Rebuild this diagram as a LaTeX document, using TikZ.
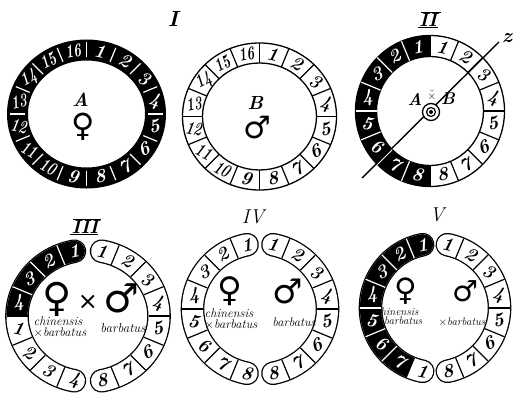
\documentclass[tikz,border=0pt]{standalone}
\usepackage{fontspec}
\newfontfamily\symf{DejaVu Sans}
\tikzset{
  num/.style={font=\fontsize{19}{19}\selectfont\bfseries\itshape, inner sep=0pt},
  lab/.style={font=\fontsize{19}{19}\selectfont\bfseries\itshape, inner sep=0pt},
  letter/.style={font=\fontsize{19}{19}\selectfont\bfseries\itshape, inner sep=0pt},
  sym/.style={font=\symf\fontsize{#1}{#1}\selectfont, inner sep=0pt},
  taxon/.style={font=\fontsize{#1}{#1}\selectfont\itshape, inner sep=0pt, align=left},
  rim/.style={line width=1.3pt},
  divline/.style={line width=1.2pt},
}
% divider across a band
\newcommand\ringdiv[6]{% #1 angle, #2 rx, #3 ry, #4 T, #5 colour, #6 shorten
  \pgfmathsetmacro\rxi{#2-#4/2+#6}\pgfmathsetmacro\rxo{#2+#4/2-#6}%
  \pgfmathsetmacro\ryi{#3-#4/2+#6}\pgfmathsetmacro\ryo{#3+#4/2-#6}%
  \draw[#5, divline] ({\rxi*cos(#1)},{\ryi*sin(#1)}) -- ({\rxo*cos(#1)},{\ryo*sin(#1)});}
\newcommand\halfband[8]{% #1 side, #2 rx, #3 ry, #4 T, #5 delta, #6 black count, #7 labels, #8 prefix
  \pgfmathsetmacro\aS{-90+#1*#5}%
  \pgfmathsetmacro\aE{-90+#1*(180-#5)}%
  \pgfmathsetmacro\tw{#4+2.6}%
  \draw[line width=\tw pt, line cap=round] (\aS:#2 and #3) arc[start angle=\aS, end angle=\aE, x radius=#2, y radius=#3];
  \draw[white, line width=#4pt, line cap=round] (\aS:#2 and #3) arc[start angle=\aS, end angle=\aE, x radius=#2, y radius=#3];
  \ifnum#6>0
    \pgfmathsetmacro\aB{-90+#1*22.5*#6}%
    \fill (\aS:#2 and #3) circle[radius=#4/2];
    \draw[line width=#4pt] (\aS:#2 and #3) arc[start angle=\aS, end angle=\aB, x radius=#2, y radius=#3];
  \fi
  \foreach \j in {1,...,7}{%
    \pgfmathsetmacro\a{-90+#1*22.5*\j}%
    \ifnum\j<#6 \def\dc{white}\else\def\dc{black}\fi
    \ringdiv{\a}{#2}{#3}{#4}{\dc}{0}}%
  \foreach \lbl [count=\k] in {#7}{%
    \pgfmathsetmacro\a{-90+#1*(11.25+22.5*(\k-1))}%
    \ifnum\k>#6 \def\tc{black}\else\def\tc{white}\fi
    \node[num, text=\tc, rotate={30*sin(2*\a)}] (#8-\k) at (\a:#2 and #3) {\lbl};}%
}
\begin{document}
\begin{tikzpicture}[x=1pt,y=-1pt]
\useasboundingbox (0,0) rectangle (513,393);

% ---------- Ring I (A) ----------
\begin{scope}[shift={(86.5,114)}]
  \draw[line width=21pt] (0,0) ellipse[x radius=69, y radius=64];
  \foreach \i in {0,...,15}{\pgfmathsetmacro\a{-90+22.5*\i}\ringdiv{\a}{69}{64}{21}{white}{3}}
  \foreach \k in {1,...,16}{\pgfmathsetmacro\a{-90+11.25+22.5*(\k-1)}
    \ifnum\k>9 \def\sx{0.7}\else\def\sx{1}\fi
    \node[num, text=white, rotate={30*sin(2*\a)}, xscale=\sx] (I-\k) at (\a:69 and 64) {\k};}
  \node[letter] (Aone) at (-6,-14) {A};
  \node[sym=32] (femI) at (-3,13) {♀};
\end{scope}
\node[lab, font=\fontsize{22}{22}\selectfont\bfseries\itshape] (labI) at (173,19) {I};

% ---------- Ring B ----------
\begin{scope}[shift={(259.5,116.5)}]
  \draw[rim] (0,0) ellipse[x radius=77, y radius=73.5];
  \draw[rim] (0,0) ellipse[x radius=57, y radius=53.5];
  \foreach \i in {0,...,15}{\pgfmathsetmacro\a{-90+22.5*\i}\ringdiv{\a}{67}{63.5}{20}{black}{0}}
  \foreach \k in {1,...,16}{\pgfmathsetmacro\a{-90+11.25+22.5*(\k-1)}
    \ifnum\k>9 \def\sx{0.7}\else\def\sx{1}\fi
    \node[num, rotate={30*sin(2*\a)}, xscale=\sx] (B-\k) at (\a:67 and 63.5) {\k};}
  \node[letter] (Bone) at (-4,-14) {B};
  \node[sym=31] (malB) at (-2,11) {♂};
\end{scope}

% ---------- Ring II ----------
\begin{scope}[shift={(430,111)}]
  \draw[line width=21pt] (-90:64 and 65) arc[start angle=-90, end angle=-270, x radius=64, y radius=65];
  \draw[rim] (0,0) ellipse[x radius=74.5, y radius=75.5];
  \draw[rim] (0,0) ellipse[x radius=53.5, y radius=54.5];
  \ringdiv{-90}{64}{65}{21}{black}{0}
  \ringdiv{90}{64}{65}{21}{black}{0}
  \foreach \j in {1,...,7}{\pgfmathsetmacro\a{-90+22.5*\j}\ringdiv{\a}{64}{65}{21}{black}{0}
    \pgfmathsetmacro\b{-90-22.5*\j}\ringdiv{\b}{64}{65}{21}{white}{0}}
  \foreach \k in {1,...,8}{\pgfmathsetmacro\a{-90+11.25+22.5*(\k-1)}
    \node[num, rotate={30*sin(2*\a)}] (IIR-\k) at (\a:64 and 65) {\k};
    \pgfmathsetmacro\b{-90-11.25-22.5*(\k-1)}
    \node[num, text=white, rotate={30*sin(2*\b)}] (IIL-\k) at (\b:64 and 65) {\k};}
\end{scope}
\coordinate (z1) at (362,178);
\coordinate (z2) at (499,42);
\draw[line width=1.4pt] (z1) -- (z2);
\node[lab, font=\fontsize{20}{20}\selectfont\bfseries\itshape] (zlab) at (507,38) {z};
\node[draw, circle, fill=white, line width=1.3pt, minimum size=17pt, inner sep=0pt] (bull) at (431,112) {};
\node[draw, circle, line width=1.2pt, minimum size=9pt, inner sep=0pt] (bullin) at (bull) {};
\fill (bull) circle[radius=2];
\node[letter, font=\fontsize{17}{17}\selectfont\bfseries\itshape] (AII) at (415,99) {A};
\node[letter, font=\fontsize{17}{17}\selectfont\bfseries\itshape] (BII) at (448,99) {B};
\node[inner sep=0pt, font=\fontsize{11}{11}\selectfont] (xII) at (432,95) {$\breve{\times}$};
\node[lab] (labII) at (428,20) {II};
\draw[line width=1.2pt] (labII.north west) ++(2,-1) -- ++(20,0);
\draw[line width=1.2pt] (labII.south west) ++(-1,1) -- ++(20,0);

% ---------- Ring III ----------
\begin{scope}[shift={(88,316)}]
  \halfband{-1}{71}{66}{21}{11}{4}{1,2,3,4,1,2,3,4}{IIIL}
  \halfband{1}{71}{66}{21}{11}{0}{1,2,3,4,5,6,7,8}{IIIR}
\end{scope}
\node[sym=40] (femIII) at (57,299) {♀};
\node[sym=24] (xIII) at (88,302) {×};
\node[sym=40] (malIII) at (121,298) {♂};
\node[taxon=12.5] (chIII) at (60,327) {chinensis\\[-1.5pt]$\times$barbatus};
\node[taxon=13] (baIII) at (123,328) {barbatus};
\node[lab] (labIII) at (85,227) {III};
\draw[line width=1.2pt] (labIII.north west) ++(2,-1) -- ++(28,0);
\draw[line width=1.2pt] (labIII.south west) ++(-1,1) -- ++(28,0);

% ---------- Ring IV ----------
\begin{scope}[shift={(260,309)}]
  \halfband{-1}{67.5}{65.5}{21}{11}{0}{1,2,3,4,5,6,7,8}{IVL}
  \halfband{1}{67.5}{65.5}{21}{11}{0}{1,2,3,4,5,6,7,8}{IVR}
\end{scope}
\node[sym=34] (femIV) at (230,291) {♀};
\node[sym=34] (malIV) at (288,291) {♂};
\node[taxon=12.5] (chIV) at (231,319) {chinensis\\[-1.5pt]$\times$barbatus};
\node[taxon=12.5] (baIV) at (294,322) {barbatus};
\node[lab, font=\fontsize{20}{20}\selectfont\itshape] (labIV) at (253,217) {IV};

% ---------- Ring V ----------
\begin{scope}[shift={(435,308)}]
  \halfband{-1}{64.5}{64.5}{21}{11}{7}{1,2,3,4,5,6,7,1}{VL}
  \halfband{1}{64.5}{64.5}{21}{11}{0}{1,2,3,4,5,6,7,8}{VR}
\end{scope}
\node[sym=31] (femV) at (406,291) {\bfseries ♀};
\node[sym=29] (malV) at (465,291) {♂};
\node[taxon=11] (chV) at (399,317) {chinensis\\[-2pt]$\times$barbatus};
\node[taxon=11] (baV) at (462,322) {$\times$barbatus};
\node[lab, font=\fontsize{20}{20}\selectfont\itshape] (labV) at (437,215) {V};
\end{tikzpicture}
\end{document}
